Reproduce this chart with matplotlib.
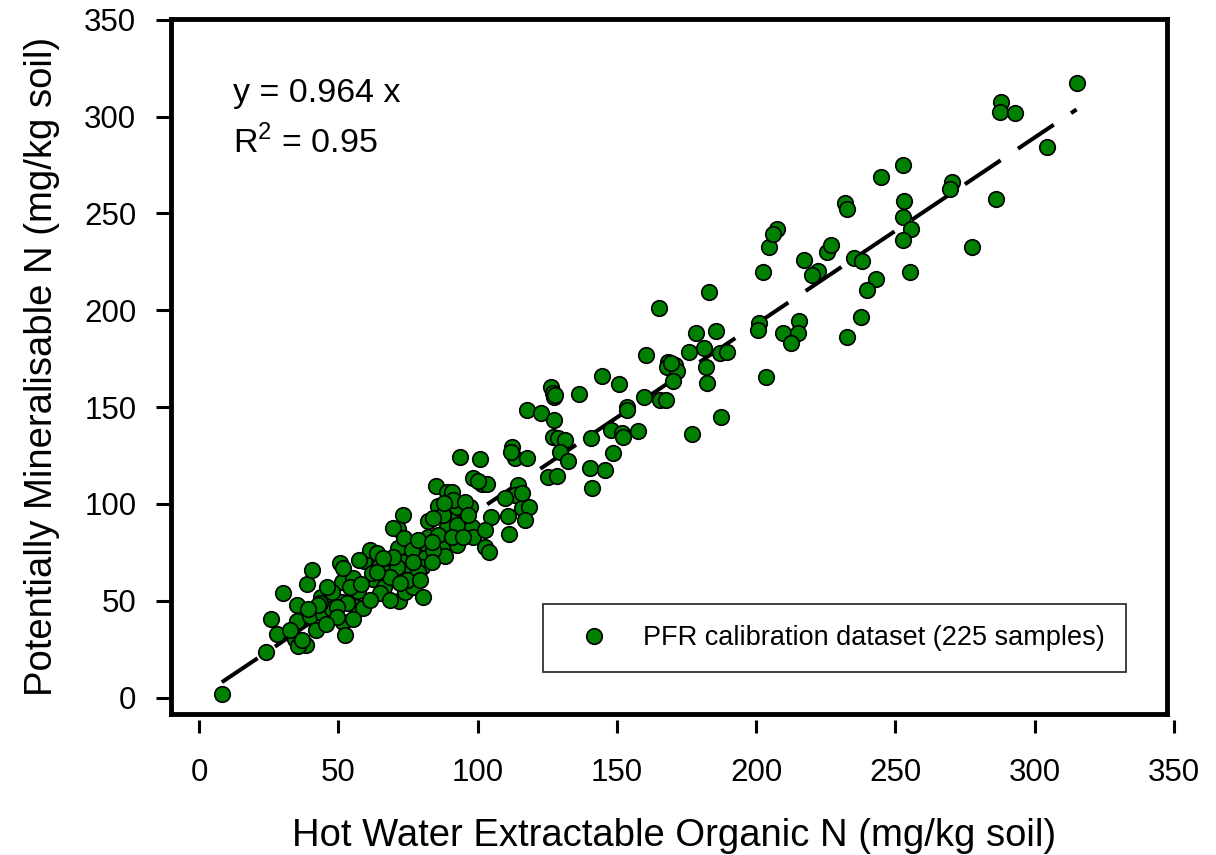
import matplotlib
matplotlib.use('Agg')
import matplotlib.pyplot as plt

plt.rcParams['font.family'] = ['Liberation Sans', 'DejaVu Sans']
plt.rcParams['mathtext.fontset'] = 'custom'
plt.rcParams['mathtext.rm'] = 'Liberation Sans'
plt.rcParams['lines.scale_dashes'] = False

# Hot water extractable organic N (x) and potentially mineralisable N (y), mg/kg soil
hwen = [
    8.2, 24.1, 28.1, 25.9, 30.0, 38.7, 40.7, 35.2, 35.1, 34.5, 38.4, 35.7, 39.9, 42.0, 44.6,
    43.8, 48.2, 47.6, 51.2, 51.2, 50.5, 55.2, 57.2, 56.4, 59.0, 51.6, 52.4, 55.4, 59.4, 61.4,
    62.6, 65.0, 66.5, 67.6, 71.9, 74.0, 76.7, 80.5, 71.6, 73.4, 81.1, 75.8, 62.0, 71.0,
    93.7, 100.9, 112.5, 113.5, 117.7, 98.3, 101.5, 103.5, 85.1, 88.9, 90.7, 114.7, 113.5, 109.9,
    115.9, 118.6, 111.1, 117.1, 111.4, 104.8, 85.9, 90.1, 95.2, 97.3, 92.5, 82.3, 73.1, 71.3,
    69.8, 88.9, 92.5, 97.9, 98.5, 102.7, 102.7, 104.2, 92.5, 87.1, 88.3, 82.3, 85.9, 73.7,
    77.3, 81.1, 80.0, 76.4, 71.0, 51.6,
    160.5, 168.5, 167.9, 144.6, 150.8, 136.4, 126.4, 127.2, 127.6, 159.9, 165.5, 167.7, 117.7,
    122.7, 127.5, 153.6, 153.8, 147.9, 152.0, 152.1, 157.7, 140.6, 127.2, 129.0, 131.4, 129.6,
    132.6, 148.8, 140.4, 145.8, 125.4, 128.4, 141.1,
    204.8, 202.4, 217.3, 225.4, 226.8, 222.4, 220.0, 235.2, 238.2, 243.1, 239.7, 237.7, 232.6,
    183.2, 165.3, 201.1, 200.8, 215.4, 209.6, 215.2, 212.5, 203.5, 178.5, 185.6, 181.3, 176.0,
    187.1, 189.5, 182.0, 182.3, 187.3, 177.1, 170.9, 171.5, 170.3,
    252.9, 244.8, 232.0, 232.8, 253.1, 252.7, 255.7, 252.7, 270.3, 269.7, 286.2, 277.5, 255.3,
    315.1, 287.9, 287.6, 293.0, 304.6, 207.4, 206.0,
    84.1, 83.5, 78.7, 74.6, 68.6, 63.8, 54.2, 47.6, 43.4, 53.0, 49.4, 65.0, 68.6, 61.4, 76.4,
    78.7, 83.6, 90.7, 94.9, 87.7, 84.1, 91.3, 95.5, 96.7, 36.9, 32.7, 42.8, 49.4, 69.8, 63.8,
    79.4, 72.2,
    169.5, 128.0, 112.0, 116.0, 100.0, 88.0, 58.0, 46.0, 39.0, 45.5, 57.5, 66.0, 77.0,
]
pmn = [
    1.7, 23.3, 32.6, 40.4, 54.1, 58.5, 65.9, 47.6, 39.5, 30.4, 27.1, 26.6, 42.1, 34.9, 43.1,
    52.1, 52.1, 45.6, 49.5, 59.8, 69.6, 61.6, 55.2, 46.9, 46.1, 39.2, 32.3, 40.4, 70.7, 76.2,
    61.1, 68.4, 57.2, 64.5, 49.8, 54.6, 57.2, 52.1, 77.1, 70.1, 77.9, 64.2, 64.2, 64.2,
    124.4, 123.0, 129.5, 123.6, 123.6, 113.2, 110.1, 110.3, 109.4, 106.3, 106.3, 109.8, 104.6, 102.9,
    97.7, 98.6, 93.8, 91.7, 84.3, 93.1, 98.9, 94.8, 96.3, 98.6, 98.6, 91.2, 94.3, 86.9,
    87.4, 88.2, 89.1, 88.2, 83.1, 86.5, 77.6, 75.3, 78.8, 77.1, 73.1, 83.1, 83.9, 82.2,
    74.5, 71.9, 67.6, 66.7, 67.6, 66.7,
    176.9, 173.5, 170.9, 166.1, 161.8, 156.6, 160.5, 157.1, 155.1, 155.4, 153.7, 153.7, 148.5,
    146.8, 143.3, 150.2, 148.5, 138.2, 136.8, 134.7, 137.8, 134.2, 134.7, 133.9, 133.0, 126.7,
    122.3, 126.1, 118.4, 117.5, 114.0, 114.4, 108.4,
    232.5, 219.9, 226.0, 230.3, 233.7, 220.5, 218.2, 226.9, 225.6, 216.0, 210.5, 196.7, 186.4,
    209.6, 201.0, 193.3, 189.8, 194.5, 188.1, 188.4, 183.3, 165.4, 188.1, 189.5, 180.7, 178.6,
    178.1, 178.6, 170.9, 162.3, 145.0, 136.1, 171.8, 168.6, 163.6,
    275.1, 269.0, 255.3, 252.2, 256.6, 248.3, 242.0, 236.3, 266.4, 262.5, 257.3, 232.5, 219.9,
    317.6, 307.7, 302.6, 301.8, 284.5, 242.0, 239.4,
    76.2, 70.1, 65.0, 60.7, 62.4, 65.0, 57.2, 54.6, 48.7, 48.7, 46.9, 53.8, 50.4, 50.4, 76.2,
    81.4, 80.5, 83.1, 83.1, 94.3, 92.6, 102.0, 101.1, 94.3, 29.7, 34.9, 47.8, 41.7, 72.7, 74.5,
    60.7, 59.0,
    172.8, 156.0, 127.0, 105.5, 112.0, 100.5, 58.5, 57.0, 45.5, 38.0, 71.0, 72.0, 70.0,
]
slope = 0.964
r_squared = 0.95
ticks = [0, 50, 100, 150, 200, 250, 300, 350]
series_label = 'PFR calibration dataset (225 samples)'

W, H = 1216, 855
px_per_x = 2.785
px_per_y = 1.936
x0_px, y0_px = 199, 697.5
left_px, right_px, top_px, bottom_px = 171, 1167, 19, 714
aw, ah = right_px - left_px, bottom_px - top_px

fig = plt.figure(figsize=(W / 100, H / 100), dpi=100)
ax = fig.add_axes([left_px / W, 1 - bottom_px / H, aw / W, ah / H])
ax.set_xlim((left_px - x0_px) / px_per_x, (right_px - x0_px) / px_per_x)
ax.set_ylim((y0_px - bottom_px) / px_per_y, (y0_px - top_px) / px_per_y)

# fitted line through the origin, drawn over the range of the data
fit_x = [min(hwen), max(hwen)]
fit_y = [slope * v for v in fit_x]
ax.plot(fit_x, fit_y, color='black', lw=2.9, dashes=(31, 15), zorder=2)

ax.plot(hwen, pmn, 'o', ms=11.2, mfc='#008000', mec='black', mew=1.2,
        label=series_label, zorder=3)

for s in ax.spines.values():
    s.set_linewidth(3.5)
ax.tick_params(axis='x', bottom=False, labelbottom=False)
ax.set_yticks(ticks)
ax.tick_params(axis='y', direction='out', length=11, width=2.2, labelsize=22.5, pad=14)

# x ticks sit on a detached axis just below the frame
ax2 = fig.add_axes([left_px / W, 1 - 720 / H, (1180 - left_px) / W, 0.0001])
ax2.set_xlim((left_px - x0_px) / px_per_x, (1180 - x0_px) / px_per_x)
ax2.patch.set_visible(False)
for s in ax2.spines.values():
    s.set_visible(False)
ax2.set_yticks([])
ax2.set_xticks(ticks)
ax2.tick_params(axis='x', direction='out', length=9.4, width=2.2, labelsize=22.5, pad=18)

ax.set_ylabel('Potentially Mineralisable N (mg/kg soil)', fontsize=27.5)
ax.yaxis.set_label_coords((60 - left_px) / aw, 0.5)
fig.text(674 / W, 1 - 818 / H, 'Hot Water Extractable Organic N (mg/kg soil)',
         fontsize=27.5, ha='center', va='top')

ax.text((233 - left_px) / aw, 1 - (102 - top_px) / ah, f'y = {slope} x',
        transform=ax.transAxes, fontsize=24.5, va='baseline', ha='left')
ax.text((233 - left_px) / aw, 1 - (153 - top_px) / ah,
        r'R$^{\mathrm{2}}$' + f' = {r_squared}', transform=ax.transAxes,
        fontsize=24.5, va='baseline', ha='left')

leg = ax.legend(loc='center', bbox_to_anchor=(834.5 / W, 1 - 638 / H),
                bbox_transform=fig.transFigure, fontsize=19.5, frameon=True,
                fancybox=False, edgecolor='black', borderpad=0.78, handlelength=2.15,
                handletextpad=0.74, numpoints=1)
leg.get_frame().set_linewidth(1.3)

fig.savefig('out.png', dpi=100)
